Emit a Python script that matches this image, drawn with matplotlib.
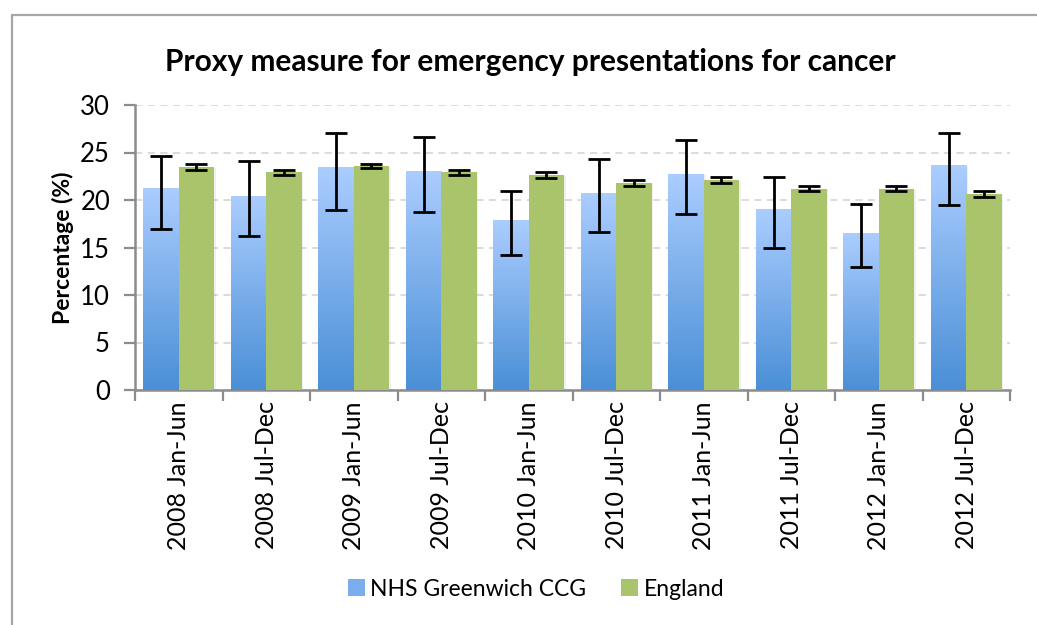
import numpy as np
import matplotlib
matplotlib.use("Agg")
import matplotlib.pyplot as plt
from matplotlib.patches import Rectangle, Patch

# ── Data ────────────────────────────────────────────────────────────────────
periods = ["2008 Jan-Jun", "2008 Jul-Dec", "2009 Jan-Jun", "2009 Jul-Dec",
           "2010 Jan-Jun", "2010 Jul-Dec", "2011 Jan-Jun", "2011 Jul-Dec",
           "2012 Jan-Jun", "2012 Jul-Dec"]

ccg_values = [21.2, 20.4, 23.4, 23.0, 17.8, 20.7, 22.7, 19.0, 16.5, 23.6]
ccg_lower = [17.0, 16.2, 19.0, 18.7, 14.2, 16.6, 18.5, 15.0, 12.9, 19.5]
ccg_upper = [24.6, 24.1, 27.1, 26.6, 21.0, 24.3, 26.3, 22.4, 19.6, 27.1]

eng_values = [23.5, 22.9, 23.55, 22.9, 22.6, 21.8, 22.1, 21.2, 21.2, 20.6]
eng_lower = [23.2, 22.6, 23.4, 22.6, 22.35, 21.5, 21.75, 20.95, 20.95, 20.35]
eng_upper = [23.8, 23.2, 23.75, 23.2, 22.95, 22.1, 22.4, 21.5, 21.5, 20.95]

series_names = ["NHS Greenwich CCG", "England"]

plt.rcParams["font.family"] = ["Lato", "DejaVu Sans"]

FIG_W, FIG_H = 1037, 625
fig = plt.figure(figsize=(FIG_W / 100, FIG_H / 100), dpi=100)
fig.patch.set_facecolor("white")

# outer chart border (Excel style), runs off the right/bottom
fig.patches.append(Rectangle((12 / FIG_W, -0.05), 1.1, (FIG_H - 15) / FIG_H + 0.05,
                             transform=fig.transFigure, fill=False,
                             edgecolor="#a6a6a6", linewidth=1.6))

ax = fig.add_axes([135 / FIG_W, 1 - 390 / FIG_H, 875 / FIG_W, 285 / FIG_H])

n = len(periods)
x = np.arange(n)
bw = 0.405
blue_top = np.array([0xab, 0xcd, 0xff]) / 255
blue_bot = np.array([0x4a, 0x8f, 0xd6]) / 255
green = "#a9c46b"
grid_c = "#d9d9d9"
axis_c = "#8c8c8c"

# ── Bars ────────────────────────────────────────────────────────────────────
grad = np.linspace(0, 1, 256)[:, None]
grad_img = blue_bot[None, None, :] * (1 - grad[..., None]) + blue_top[None, None, :] * grad[..., None]
grad_img = grad_img[::-1]  # row 0 at top -> light

for i in range(n):
    x0 = x[i] - bw
    h = ccg_values[i]
    # soft shadow to the right of each bar
    ax.add_patch(Rectangle((x0 + 0.02, 0), bw, h - 0.1, facecolor="#000000",
                           alpha=0.06, linewidth=0, zorder=2))
    ax.imshow(grad_img, extent=[x0, x0 + bw, 0, h], aspect="auto",
              zorder=3, interpolation="bilinear")
    ax.add_patch(Rectangle((x[i] + 0.02, 0), bw, eng_values[i] - 0.1,
                           facecolor="#000000", alpha=0.06, linewidth=0, zorder=2))

ax.bar(x + bw / 2, eng_values, width=bw, color=green, linewidth=0, zorder=3)

# ── Error bars ──────────────────────────────────────────────────────────────
cv = np.array(ccg_values)
ev = np.array(eng_values)
ccg_err = [cv - np.array(ccg_lower), np.array(ccg_upper) - cv]
eng_err = [ev - np.array(eng_lower), np.array(eng_upper) - ev]
ax.errorbar(x - bw / 2, cv, yerr=ccg_err, fmt="none", ecolor="black",
            elinewidth=2.0, capsize=8, capthick=2.0, zorder=5)
ax.errorbar(x + bw / 2, ev, yerr=eng_err, fmt="none", ecolor="black",
            elinewidth=2.0, capsize=8, capthick=2.0, zorder=5)

# ── Axes styling ────────────────────────────────────────────────────────────
ax.set_xlim(-0.5, n - 0.5)
ax.set_ylim(0, 30)
ax.set_yticks(range(0, 31, 5))
ax.yaxis.grid(True, color=grid_c, linestyle=(0, (4, 3)), linewidth=1.3, zorder=0)
ax.set_axisbelow(True)

ax.set_xticks(np.arange(-0.5, n, 1.0))
ax.set_xticklabels([])
ax.set_xticks(x, minor=True)
ax.set_xticklabels(periods, minor=True, rotation=90, fontsize=18)
ax.tick_params(axis="x", which="major", length=8, width=1.6, color=axis_c,
               direction="out")
ax.tick_params(axis="x", which="minor", length=0, pad=8)
ax.tick_params(axis="y", length=8, width=1.6, color=axis_c, direction="out",
               labelsize=18.5, pad=10)

for side in ("top", "right"):
    ax.spines[side].set_visible(False)
for side in ("left", "bottom"):
    ax.spines[side].set_color(axis_c)
    ax.spines[side].set_linewidth(1.8)

ax.set_ylabel("Percentage (%)", fontsize=16.5, fontweight="bold", labelpad=4)
fig.text(530 / FIG_W, 1 - 62 / FIG_H, "Proxy measure for emergency presentations for cancer",
         ha="center", va="center", fontsize=21.5, fontweight="bold")

# ── Legend ──────────────────────────────────────────────────────────────────
handles = [Patch(facecolor="#7aaeee", edgecolor="none"),
           Patch(facecolor=green, edgecolor="none")]
fig.legend(handles, series_names, loc="center", bbox_to_anchor=(536 / FIG_W, 1 - 589 / FIG_H),
           ncol=2, frameon=False, fontsize=16.5, handlelength=0.75, handleheight=0.75,
           handletextpad=0.25, columnspacing=1.5)

fig.savefig("out.png", dpi=100)
plt.close(fig)
